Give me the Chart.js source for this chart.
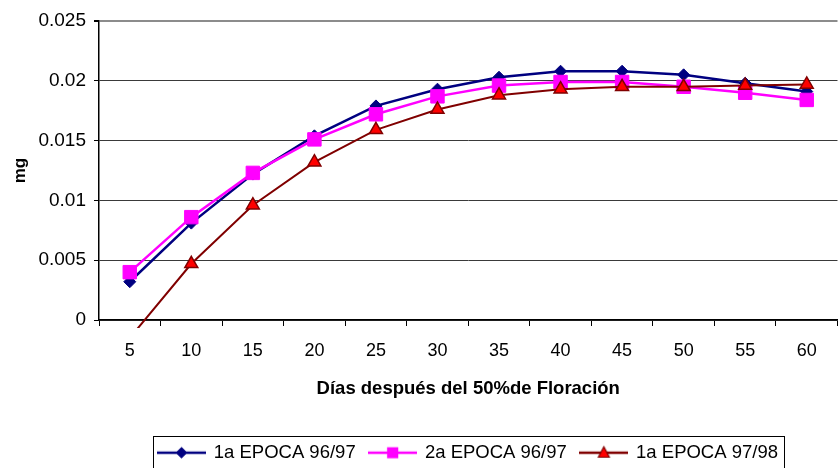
<!DOCTYPE html>
<html>
<head>
<meta charset="utf-8">
<script src="https://cdn.jsdelivr.net/npm/chart.js@4.4.1/dist/chart.umd.min.js"></script>
<style>
  html, body { margin: 0; padding: 0; background: #fff; overflow: hidden; }
  #wrap { width: 838px; height: 468px; overflow: hidden; position: relative; }
  canvas { display: block; }
</style>
</head>
<body>
<div id="wrap"><canvas id="chart" width="848" height="472"></canvas></div>
<script>
/* global Chart */
'use strict';

// Días después del 50% de floración
const dias = ['5', '10', '15', '20', '25', '30', '35', '40', '45', '50', '55', '60'];

// peso (mg) por época
const epoca1_9697 = [0.0032, 0.0081, 0.0122, 0.0154, 0.0179, 0.0193, 0.0203, 0.0208, 0.0208, 0.0205, 0.0198, 0.0191];
const epoca2_9697 = [0.0040, 0.0086, 0.0123, 0.0151, 0.0172, 0.0187, 0.0196, 0.0199, 0.0199, 0.0195, 0.0190, 0.0184];
const epoca1_9798 = [-0.0015, 0.0047, 0.0096, 0.0132, 0.0159, 0.0176, 0.0188, 0.0193, 0.0195, 0.0195, 0.0196, 0.0197];

const seriesNames = ['1a EPOCA 96/97', '2a EPOCA 96/97', '1a EPOCA 97/98'];
const yTickLabels = ['0', '0.005', '0.01', '0.015', '0.02', '0.025'];

const FONT = "'Liberation Sans', Arial, sans-serif";
const NAVY = '#000080';
const MAGENTA = '#FF00FF';
const DARKRED = '#800000';
const RED = '#FF0000';

// small line + marker swatch for the legend
function legendIcon(lineColor, fillColor, shape) {
  const c = document.createElement('canvas');
  c.width = 49;
  c.height = 20;
  const g = c.getContext('2d');
  g.strokeStyle = lineColor;
  g.lineWidth = 2.5;
  g.beginPath();
  g.moveTo(0, 10);
  g.lineTo(49, 10);
  g.stroke();
  g.fillStyle = fillColor;
  g.lineWidth = 1.2;
  g.beginPath();
  if (shape === 'diamond') {
    g.moveTo(24.5, 5); g.lineTo(29.5, 10); g.lineTo(24.5, 15); g.lineTo(19.5, 10);
  } else if (shape === 'square') {
    g.rect(19.5, 5, 10, 10);
  } else {
    g.moveTo(24.5, 4); g.lineTo(30, 14.5); g.lineTo(19, 14.5);
  }
  g.closePath();
  g.fill();
  g.stroke();
  return c;
}

const icons = [
  legendIcon(NAVY, NAVY, 'diamond'),
  legendIcon(MAGENTA, MAGENTA, 'square'),
  legendIcon(DARKRED, RED, 'triangle')
];

// frame around the legend row
const legendFrame = {
  id: 'legendFrame',
  afterDraw(chart) {
    const boxes = chart.legend && chart.legend.legendHitBoxes;
    if (!boxes || !boxes.length) return;
    const first = boxes[0];
    const last = boxes[boxes.length - 1];
    const x0 = Math.round(first.left - 5) + 0.5;
    const x1 = Math.round(last.left + last.width + 6) + 0.5;
    const y0 = Math.round(first.top + first.height / 2 - 17) + 0.5;
    const ctx = chart.ctx;
    ctx.save();
    ctx.strokeStyle = '#000';
    ctx.lineWidth = 1;
    ctx.strokeRect(x0, y0, x1 - x0, 40);
    ctx.restore();
  }
};

new Chart(document.getElementById('chart'), {
  type: 'line',
  data: {
    labels: dias,
    datasets: [
      {
        label: seriesNames[0],
        data: epoca1_9697,
        borderColor: NAVY,
        backgroundColor: NAVY,
        borderWidth: 2.5,
        pointStyle: 'rectRot',
        pointRadius: 6,
        pointBorderWidth: 1,
        order: 2
      },
      {
        label: seriesNames[1],
        data: epoca2_9697,
        borderColor: MAGENTA,
        backgroundColor: MAGENTA,
        borderWidth: 2.5,
        pointStyle: 'rect',
        pointRadius: 9.5,
        pointBorderWidth: 1,
        order: 1
      },
      {
        label: seriesNames[2],
        data: epoca1_9798,
        borderColor: DARKRED,
        backgroundColor: RED,
        pointBorderColor: DARKRED,
        borderWidth: 2,
        pointStyle: 'triangle',
        pointRadius: 7.5,
        pointBorderWidth: 1.5,
        order: 0,
        clip: { left: 5, top: 5, right: 5, bottom: 8 }
      }
    ]
  },
  options: {
    responsive: false,
    devicePixelRatio: 1,
    animation: false,
    layout: { padding: { top: 21, left: 0, right: 0, bottom: 0 } },
    elements: { line: { tension: 0, fill: false } },
    plugins: {
      tooltip: { enabled: false },
      legend: {
        position: 'bottom',
        fullSize: false,
        labels: {
          font: { family: FONT, size: 18.5 },
          color: '#000',
          usePointStyle: true,
          pointStyleWidth: 46,
          padding: 14,
          generateLabels: function (chart) {
            return chart.data.datasets.map(function (ds, i) {
              return {
                text: ds.label,
                pointStyle: icons[i],
                fillStyle: ds.backgroundColor,
                strokeStyle: ds.borderColor,
                lineWidth: 0,
                hidden: false,
                datasetIndex: i
              };
            });
          }
        }
      }
    },
    scales: {
      x: {
        offset: true,
        afterFit: function (scale) { scale.height = 109.5; },
        grid: {
          offset: true,
          drawOnChartArea: false,
          drawTicks: true,
          tickLength: 6,
          tickColor: '#000',
          lineWidth: 1
        },
        border: { color: '#000', width: 1.5 },
        ticks: {
          font: { family: FONT, size: 18 },
          color: '#000',
          padding: 14,
          maxRotation: 0,
          autoSkip: false
        },
        title: {
          display: true,
          text: 'Días después del 50%de Floración',
          font: { family: FONT, size: 18.5, weight: 'bold' },
          color: '#000',
          padding: { top: 0, bottom: 29 }
        }
      },
      y: {
        min: 0,
        max: 0.025,
        afterFit: function (scale) { scale.width = 99; },
        grid: {
          color: function (ctx) {
            return ctx.index === yTickLabels.length - 1 ? '#8c8c8c' : '#3a3a3a';
          },
          lineWidth: function (ctx) {
            return ctx.index === yTickLabels.length - 1 ? 2 : 1;
          },
          tickLength: 5,
          tickColor: '#000'
        },
        border: { color: '#000', width: 1.5 },
        ticks: {
          stepSize: 0.005,
          font: { family: FONT, size: 19 },
          color: '#000',
          padding: 8,
          callback: function (value, index) { return yTickLabels[index]; }
        },
        title: {
          display: true,
          text: 'mg',
          font: { family: FONT, size: 17, weight: 'bold' },
          color: '#000',
          padding: { top: 10, bottom: 0 }
        }
      }
    }
  },
  plugins: [legendFrame]
});
</script>
</body>
</html>
